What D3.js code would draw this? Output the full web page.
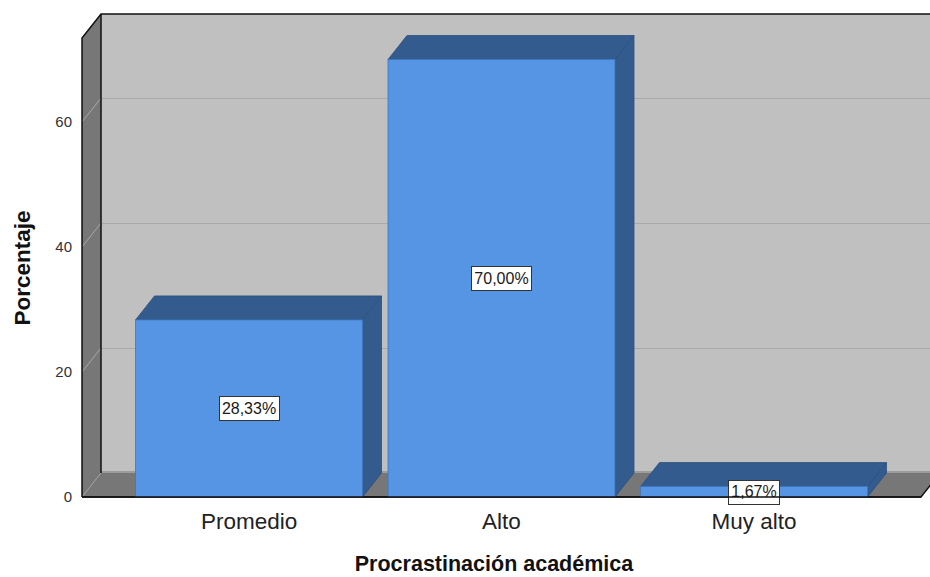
<!DOCTYPE html>
<html>
<head>
<meta charset="utf-8">
<script src="https://cdn.jsdelivr.net/npm/d3@7"></script>
<style>
  html, body { margin: 0; padding: 0; background: #fff; }
  svg { display: block; }
  text { font-family: "Liberation Sans", Arial, sans-serif; }
</style>
</head>
<body>
<svg id="chart" width="930" height="577"></svg>
<script>
// Procrastinación académica — porcentaje por nivel
const categories = ["Promedio", "Alto", "Muy alto"];
const percentages = [28.33, 70.00, 1.67];
const yTicks = [0, 20, 40, 60];
const yTitle = "Porcentaje";
const xTitle = "Procrastinación académica";

const svg = d3.select("#chart");
const W = 930, H = 577;

// front plane of the 3D box and the depth offset to its back plane
const front = { left: 82, right: 921, bottom: 497, top: 38 };
const depth = { dx: 19, dy: -24 };

const y = d3.scaleLinear().domain([0, 73.44]).range([front.bottom, front.top]);
const x = d3.scaleBand().domain(categories)
  .range([front.left, front.right])
  .paddingInner(0.101).paddingOuter(0.212);

const fmt = v => d3.format(".2f")(v).replace(".", ",") + "%";
const pts = arr => arr.map(p => p.join(",")).join(" ");

const backL = front.left + depth.dx, backR = front.right + depth.dx;
const backTop = front.top + depth.dy, backBottom = front.bottom + depth.dy;

// back wall
svg.append("rect")
  .attr("x", backL).attr("y", backTop)
  .attr("width", backR - backL).attr("height", backBottom - backTop)
  .attr("fill", "#c0c0c0");

// left wall
svg.append("polygon")
  .attr("points", pts([[front.left, front.top], [backL, backTop], [backL, backBottom], [front.left, front.bottom]]))
  .attr("fill", "#777777");

// floor
svg.append("polygon")
  .attr("points", pts([[front.left, front.bottom], [backL, backBottom], [backR, backBottom], [front.right, front.bottom]]))
  .attr("fill", "#777777");
svg.append("line")
  .attr("x1", backL).attr("x2", backR)
  .attr("y1", backBottom - 1).attr("y2", backBottom - 1)
  .attr("stroke", "#9c9c9c").attr("stroke-width", 2);

// gridlines: diagonal on left wall, horizontal on back wall
const grid = svg.append("g");
yTicks.forEach(t => {
  const yf = y(t), yb = y(t) + depth.dy;
  grid.append("line")
    .attr("x1", front.left).attr("y1", yf)
    .attr("x2", backL).attr("y2", yb)
    .attr("stroke", "#a8a8a8").attr("stroke-width", 1)
    .attr("stroke-dasharray", t === 0 ? "2,1" : null);
  if (t > 0) {
    grid.append("line")
      .attr("x1", backL).attr("y1", yb + 0.5)
      .attr("x2", W).attr("y2", yb + 0.5)
      .attr("stroke", "#a9a9a9").attr("stroke-width", 1);
  }
});

// box edges
const edges = svg.append("g").attr("stroke", "#111").attr("fill", "none").attr("stroke-width", 1.5);
edges.append("polyline")
  .attr("points", pts([[front.left, front.bottom], [front.left, front.top], [backL, backTop], [W + 5, backTop]]));
edges.append("line")
  .attr("x1", backL).attr("y1", backTop).attr("x2", backL).attr("y2", backBottom);
edges.append("polyline")
  .attr("points", pts([[front.left, front.bottom], [front.right, front.bottom], [backR, backBottom]]));

// 3D bars
const bars = svg.append("g").selectAll("g").data(categories).join("g");
bars.each(function (c, i) {
  const g = d3.select(this);
  const x0 = x(c), x1 = x(c) + x.bandwidth();
  const yT = y(percentages[i]), yB = y(0);
  // side
  g.append("polygon")
    .attr("points", pts([[x1, yT], [x1 + depth.dx, yT + depth.dy], [x1 + depth.dx, yB + depth.dy], [x1, yB]]))
    .attr("fill", "#335b8d").attr("stroke", "#2b4f7c").attr("stroke-width", 0.8);
  // top
  g.append("polygon")
    .attr("points", pts([[x0, yT], [x0 + depth.dx, yT + depth.dy], [x1 + depth.dx, yT + depth.dy], [x1, yT]]))
    .attr("fill", "#335b8d").attr("stroke", "#2b4f7c").attr("stroke-width", 0.8);
  // front
  g.append("rect")
    .attr("x", x0).attr("y", yT).attr("width", x1 - x0).attr("height", yB - yT)
    .attr("fill", "#5595e3").attr("stroke", "#3f77bd").attr("stroke-width", 0.8);
});

// front line redrawn above the bars
svg.append("line")
  .attr("x1", front.left).attr("x2", front.right)
  .attr("y1", front.bottom).attr("y2", front.bottom)
  .attr("stroke", "#111").attr("stroke-width", 1.5);

// value labels
bars.each(function (c, i) {
  const g = d3.select(this);
  const cx = x(c) + x.bandwidth() / 2;
  const cy = (y(percentages[i]) + y(0)) / 2;
  const t = g.append("text")
    .attr("x", cx).attr("y", cy)
    .attr("text-anchor", "middle").attr("dominant-baseline", "central")
    .attr("font-size", 16).attr("fill", "#1a1a1a")
    .text(fmt(percentages[i]));
  const bb = t.node().getBBox();
  g.insert("rect", "text")
    .attr("x", Math.round(cx - bb.width / 2 - 3) + 0.5)
    .attr("y", Math.round(cy - 12) + 0.5)
    .attr("width", Math.round(bb.width + 6)).attr("height", 24)
    .attr("fill", "#fff").attr("stroke", "#333").attr("stroke-width", 1);
});

// y axis labels
const yAxis = d3.axisLeft(y).tickValues(yTicks).tickSize(0).tickPadding(10);
const ya = svg.append("g").attr("transform", `translate(${front.left},0)`).call(yAxis);
ya.select(".domain").remove();
ya.selectAll("text").attr("font-size", 15).attr("fill", "#333")
  .attr("font-family", "Liberation Sans, Arial, sans-serif");

// x axis labels
const xAxis = d3.axisBottom(x).tickSize(0).tickPadding(16);
const xa = svg.append("g").attr("transform", `translate(0,${front.bottom})`).call(xAxis);
xa.select(".domain").remove();
xa.selectAll("text").attr("font-size", 22.5).attr("fill", "#222")
  .attr("font-family", "Liberation Sans, Arial, sans-serif");

// axis titles
svg.append("text")
  .attr("transform", "translate(30,268) rotate(-90)")
  .attr("text-anchor", "middle")
  .attr("font-size", 22.5).attr("font-weight", "bold").attr("fill", "#111")
  .text(yTitle);
svg.append("text")
  .attr("x", 494).attr("y", 571)
  .attr("text-anchor", "middle")
  .attr("font-size", 21.5).attr("font-weight", "bold").attr("fill", "#111")
  .text(xTitle);
</script>
</body>
</html>
